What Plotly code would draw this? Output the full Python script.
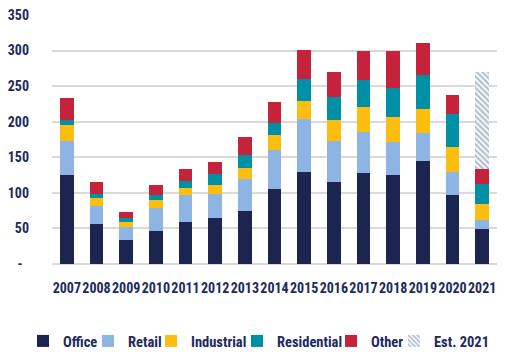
import plotly.graph_objects as go

years = [str(y) for y in range(2007, 2022)]
office = [125, 56, 34, 46, 59, 65, 75, 105, 129, 115, 128, 125, 145, 97, 49]
retail = [48, 26, 18, 33, 38, 34, 45, 55, 75, 58, 58, 47, 39, 32, 13]
industrial = [22, 11, 7, 11, 10, 12, 15, 21, 25, 29, 35, 34, 34, 35, 22]
residential = [8, 6, 6, 7, 10, 16, 18, 17, 31, 33, 38, 41, 48, 47, 29]
other = [30, 16, 8, 14, 17, 16, 26, 30, 41, 35, 40, 52, 45, 26, 21]
est_2021 = [None] * 14 + [136]

y_ticks = [0, 50, 100, 150, 200, 250, 300, 350]
y_ticktext = ["-\u00a0\u00a0", "50", "100", "150", "200", "250", "300", "350"]

navy = "#1b2550"
txt = "#1c2a5c"
series = [
    ("Office", office, navy),
    ("Retail", retail, "#8db4e2"),
    ("Industrial", industrial, "#fdbe10"),
    ("Residential", residential, "#0090a6"),
    ("Other", other, "#c4233b"),
]

fig = go.Figure()
legend_names = ["legend", "legend2", "legend3", "legend4", "legend5", "legend6"]
for i, (name, vals, col) in enumerate(series):
    fig.add_trace(go.Bar(x=years, y=vals, name=name, marker=dict(color=col, line=dict(width=0)),
                         legend=legend_names[i], showlegend=True))
fig.add_trace(go.Bar(x=years, y=est_2021, name="Est. 2021",
                     marker=dict(color="white", line=dict(width=0),
                                 pattern=dict(shape="\\", fgcolor="#5f82a3", bgcolor="white",
                                              size=4, solidity=0.55)),
                     legend="legend6", showlegend=True))

font_family = "Roboto Condensed, Liberation Sans Narrow, Roboto, sans-serif"
legend_font = dict(family=font_family, size=14.5, color=txt, weight="bold")
text_starts = [63, 128, 191, 277, 371, 434]
W, H = 510, 354
legend_layout = {}
for name, ts in zip(legend_names, text_starts):
    legend_layout[name] = dict(orientation="h", xref="container", yref="container",
                               x=(ts - 40) / W, y=1 - 341 / H, xanchor="left", yanchor="middle",
                               font=legend_font, bgcolor="rgba(0,0,0,0)", borderwidth=0,
                               entrywidth=90, entrywidthmode="pixels",
                               itemclick=False, visible=True)

tick_font = dict(family=font_family, size=14, color=txt, weight="bold")

fig.update_layout(
    width=W, height=H,
    showlegend=True,
    barmode="stack", bargap=0.53,
    plot_bgcolor="white", paper_bgcolor="white",
    margin=dict(l=52, r=13, t=15, b=90, autoexpand=False),
    xaxis=dict(type="category", tickfont=tick_font, showgrid=False, ticks="", tickangle=0,
               ticklabelstandoff=14, showline=False),
    yaxis=dict(range=[0, 350], tickvals=y_ticks, ticktext=y_ticktext, tickfont=tick_font,
               showgrid=True, gridcolor="#d9d9d9", gridwidth=1.5, zeroline=True,
               zerolinecolor="#d9d9d9", zerolinewidth=2, ticks="", ticklabelstandoff=22,
               showline=False),
    **legend_layout,
)

fig.write_html("out.html")
